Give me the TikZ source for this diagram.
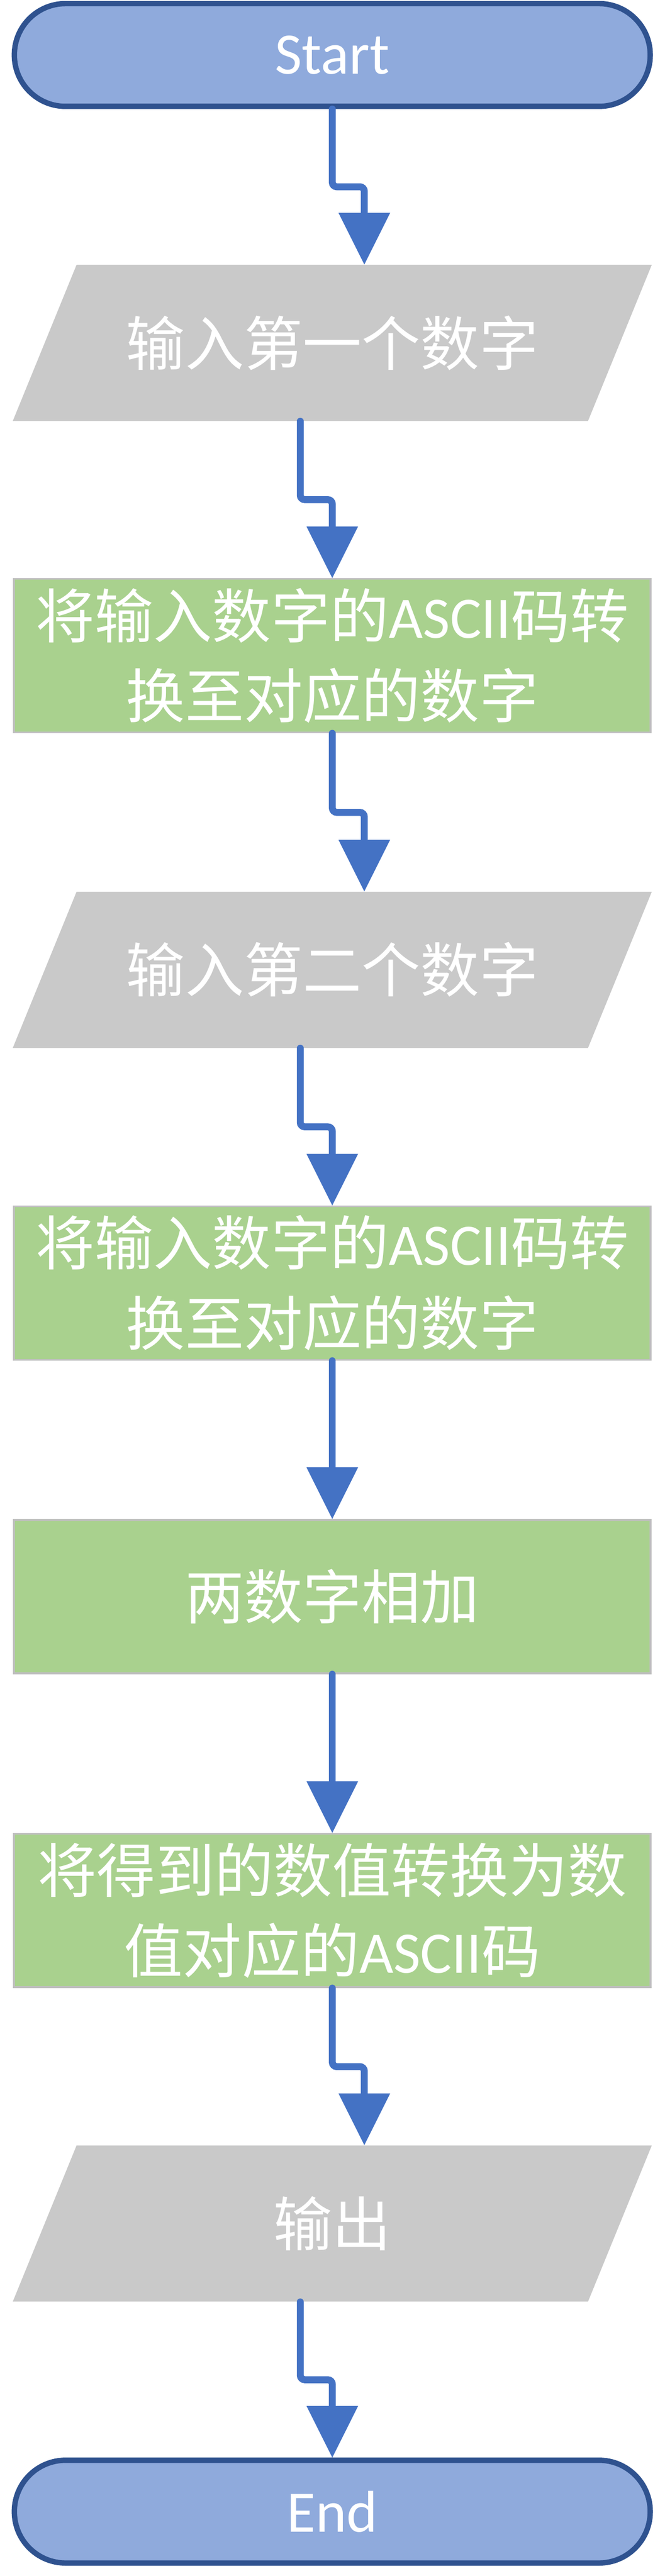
\documentclass[tikz,border=0pt]{standalone}
\usepackage{fontspec}
\setmainfont{Carlito}
\newfontfamily\cjk{Noto Sans CJK SC}
\usepackage{tikz}
\usetikzlibrary{shapes.geometric,arrows.meta,calc}
\definecolor{termfill}{HTML}{8FAADC}
\definecolor{termdraw}{HTML}{2F528F}
\definecolor{iofill}{HTML}{C9C9C9}
\definecolor{procfill}{HTML}{A9D18E}
\definecolor{procdraw}{HTML}{BFBFBF}
\definecolor{flowcol}{HTML}{4472C4}

\begin{document}
\begin{tikzpicture}[font=\fontsize{37.3}{50.9}\selectfont]
		\tikzstyle{term}=[draw=termdraw,fill=termfill,line width=0.12cm,rectangle,rounded corners=1.14cm,text=white,minimum width=14.16cm,minimum height=2.29cm]
		\tikzstyle{io}=[fill=iofill,trapezium,trapezium left angle=67.8,trapezium right angle=112.2,trapezium stretches body,text=white,text height=1.15cm,text depth=0.15cm,inner ysep=1.09cm,minimum width=14.23cm]
		\tikzstyle{proc}=[draw=procdraw,fill=procfill,line width=0.04cm,rectangle,text=white,align=center,minimum width=14.18cm,minimum height=3.42cm]
		\tikzstyle{flow}=[draw=flowcol,line width=0.155cm,line cap=round,rounded corners=0.1cm,-{Triangle[width=1.15cm,length=1.15cm,line width=0pt]}]
		
		\useasboundingbox (0,0) rectangle (14.8,-57.4);
		
		\node[term] (start) at (7.4,-1.225) {Start};
		\node[io] (in1) at (7.4,-7.64) {\cjk 输入第一个数字};
		\node[proc] (conv1) at (7.4,-14.61) {{\cjk 将输入数字的}ASCII{\cjk 码转}\\{\cjk 换至对应的数字}};
		\node[io] (in2) at (7.4,-21.61) {\cjk 输入第二个数字};
		\node[proc] (conv2) at (7.4,-28.59) {{\cjk 将输入数字的}ASCII{\cjk 码转}\\{\cjk 换至对应的数字}};
		\node[proc] (add) at (7.4,-35.575) {\cjk 两数字相加};
		\node[proc] (back) at (7.4,-42.57) {{\cjk 将得到的数值转换为数}\\{\cjk 值对应的}ASCII{\cjk 码}};
		\node[io] (out) at (7.4,-49.545) {\cjk 输出};
		\node[term] (end) at (7.4,-55.965) {End};
		
		\draw[flow] (start.south) |- ($(start.south)!0.5!(in1.top side)$) -| (in1.top side);
		\draw[flow] (in1.bottom side) |- ($(in1.bottom side)!0.5!(conv1.north)$) -| (conv1.north);
		\draw[flow] (conv1.south) |- ($(conv1.south)!0.5!(in2.top side)$) -| (in2.top side);
		\draw[flow] (in2.bottom side) |- ($(in2.bottom side)!0.5!(conv2.north)$) -| (conv2.north);
		\draw[flow] (conv2.south) -- (add.north);
		\draw[flow] (add.south) -- (back.north);
		\draw[flow] (back.south) |- ($(back.south)!0.5!(out.top side)$) -| (out.top side);
		\draw[flow] (out.bottom side) |- ($(out.bottom side)!0.5!(end.north)$) -| (end.north);
		
		\end{tikzpicture}
\end{document}
